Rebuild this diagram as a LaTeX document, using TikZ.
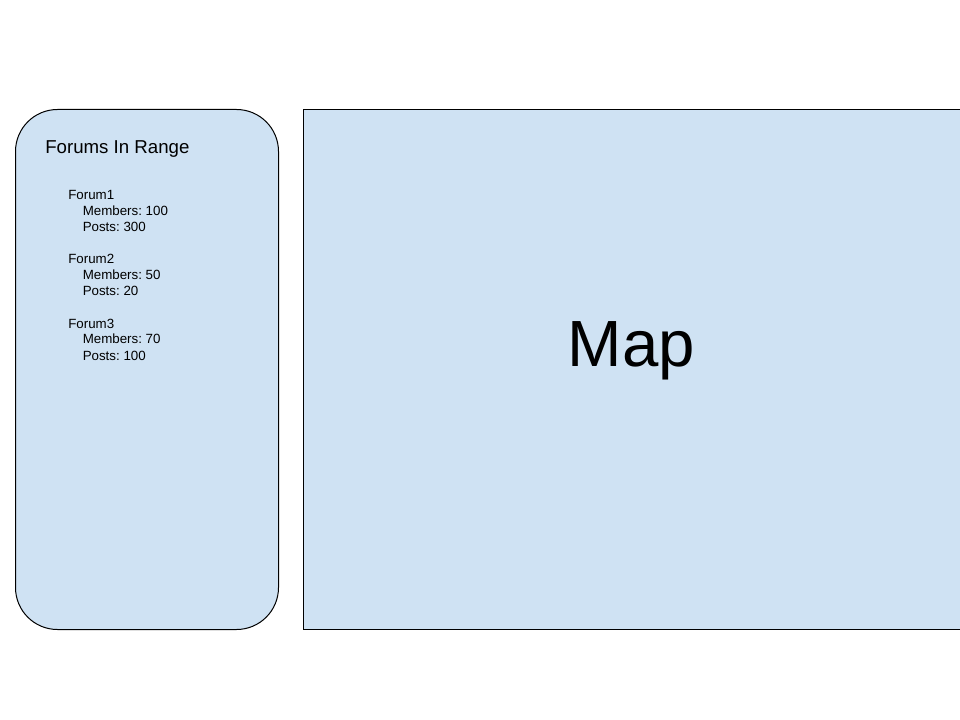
\documentclass[tikz,border=0pt]{standalone}
\usepackage{fontspec}
\setmainfont{Liberation Sans}
\frenchspacing
\definecolor{panelblue}{HTML}{CFE2F3}
\begin{document}
\begin{tikzpicture}[x=0.75pt,y=-0.75pt,
  panel/.style={draw=black,line width=0.75pt,fill=panelblue},
  title/.style={anchor=base west,inner sep=0pt,font=\fontsize{14pt}{16pt}\selectfont},
  item/.style={anchor=base west,inner sep=0pt,font=\fontsize{10pt}{12pt}\selectfont}]
\useasboundingbox (0,0) rectangle (960,720);
\begin{scope}
\clip (0,0) rectangle (960,720);
\draw[panel,rounded corners=31.5pt] (15.5,109.5) rectangle (278.5,629.5);
\draw[panel] (303.5,109.5) rectangle (961,629.5);
\end{scope}
\node[title] (hdr) at (45,154) {Forums In Range};
\node[item] (f1) at (68,200) {Forum1};
\node[item] (f1m) at (82.5,216) {Members: 100};
\node[item] (f1p) at (82.5,232) {Posts: 300};
\node[item] (f2) at (68,264) {Forum2};
\node[item] (f2m) at (82.5,280) {Members: 50};
\node[item] (f2p) at (82.5,296) {Posts: 20};
\node[item] (f3) at (68,328) {Forum3};
\node[item] (f3m) at (82.5,344) {Members: 70};
\node[item] (f3p) at (82.5,360) {Posts: 100};
\node[anchor=base,inner sep=0pt,font=\fontsize{49pt}{56pt}\selectfont] (map) at (631.5,366) {Map};
\end{tikzpicture}
\end{document}
